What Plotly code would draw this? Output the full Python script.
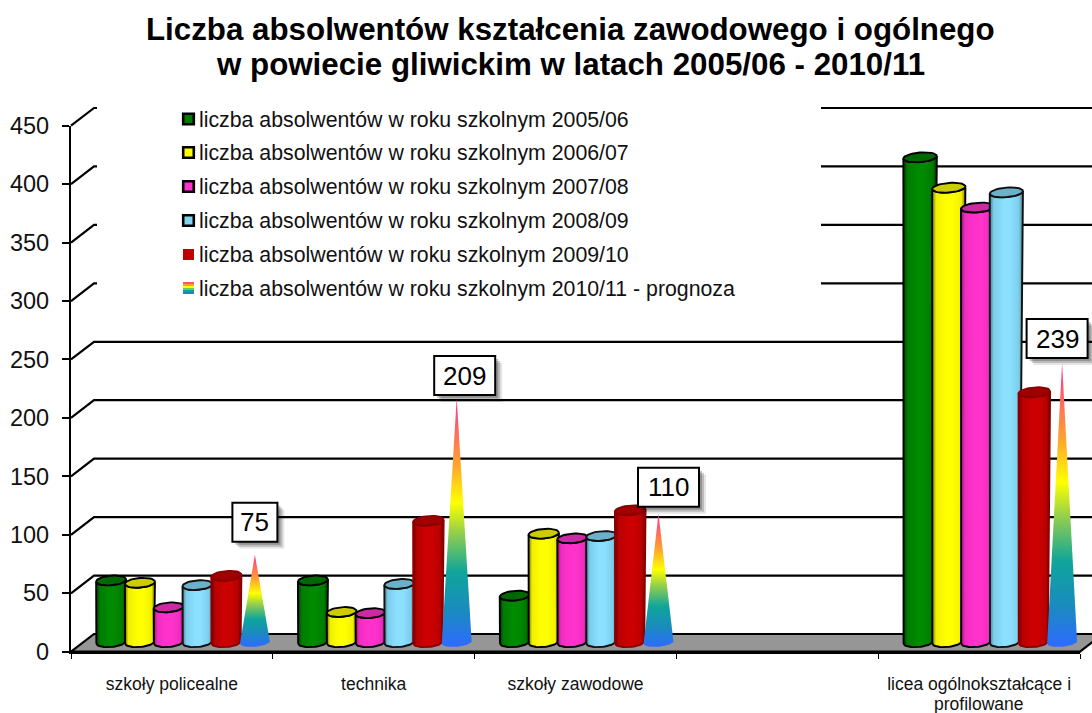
import math
import plotly.graph_objects as go

categories = ["szkoły policealne", "technika", "szkoły zawodowe", "", "licea ogólnokształcące i"]
category_second_line = "profilowane"
y_ticks = [0, 50, 100, 150, 200, 250, 300, 350, 400, 450]
title_lines = ["Liczba absolwentów kształcenia zawodowego i ogólnego",
               "w powiecie gliwickim w latach 2005/06 - 2010/11"]
series_names = [
    "liczba absolwentów w roku szkolnym 2005/06",
    "liczba absolwentów w roku szkolnym 2006/07",
    "liczba absolwentów w roku szkolnym 2007/08",
    "liczba absolwentów w roku szkolnym 2008/09",
    "liczba absolwentów w roku szkolnym 2009/10",
    "liczba absolwentów w roku szkolnym 2010/11 - prognoza",
]
v2005 = [53, 53, 40, None, 415]
v2006 = [51, 26, 93, None, 389]
v2007 = [30, 25, 89, None, 372]
v2008 = [49, 50, 91, None, 385]
v2009 = [57, 104, 113, None, 214]
v2010 = [75, 209, 110, None, 239]
cylinder_series = [v2005, v2006, v2007, v2008, v2009]

W, H = 1092, 713
L, R, T, B = 71, 1080, 125.7, 651.7
PX_CAT = (R - L) / 5
PX_UNIT = (B - T) / 450
px_x = lambda px: px / PX_CAT            # horizontal pixels -> x units
px_y = lambda px: px / PX_UNIT           # vertical pixels -> y units
pap_x = lambda px: px / W
pap_y = lambda px: 1 - px / H

DEPTH_X, DEPTH_Y = px_x(23), px_y(17.7)
X0, X1 = -0.5, 4.5
GROUP_SHIFT = px_x(11)
STEP = px_x(28.8)
BASE = px_y(9.3)
LEGEND_EDGE = X0 + px_x(821 - L)
FONT = "Liberation Sans"

def shade(dark, mid, light):
    return [[0, dark], [0.12, mid], [0.42, light], [0.62, light], [0.88, mid], [1, dark]]

styles = [
    dict(body=shade("#003a00", "#007a00", "#008a00"), top="#006800", line="#000000"),
    dict(body=shade("#7a7a00", "#f0f000", "#ffff00"), top="#cccc00", line="#000000"),
    dict(body=shade("#8a1670", "#f02cc0", "#ff33cc"), top="#cc2aa4", line="#000000"),
    dict(body=shade("#4a7d92", "#7ccdea", "#8be0ff"), top="#6cb0ca", line="#111111"),
    dict(body=shade("#6a0000", "#b80000", "#cc0000"), top="#a00000", line="#8a0000"),
]
cone_scale = [[0, "#2f6bff"], [0.14, "#1a8ac0"], [0.3, "#0fa59a"], [0.45, "#8ccc50"],
              [0.58, "#ffff00"], [0.74, "#ffa030"], [1, "#ff3090"]]

fig = go.Figure()

def ell_pts(cx, cy, a_px, b_px, t0, t1, n=24, tilt=-0.085):
    xs, ys = [], []
    for i in range(n + 1):
        t = t0 + (t1 - t0) * i / n
        ex, ey = a_px * math.cos(t), b_px * math.sin(t)
        rx = ex * math.cos(tilt) - ey * math.sin(tilt)
        ry = ex * math.sin(tilt) + ey * math.cos(tilt)
        xs.append(cx + px_x(rx))
        ys.append(cy - px_y(ry))
    return xs, ys

def add_line(xs, ys):
    fig.add_trace(go.Scatter(x=xs, y=ys, mode="lines", line=dict(color="#000000", width=2.2),
                             hoverinfo="skip", showlegend=False))

# floor
fig.add_trace(go.Scatter(
    x=[X0, X0 + DEPTH_X, X1 + DEPTH_X, X1, X0], y=[0, DEPTH_Y, DEPTH_Y, 0, 0],
    mode="lines", fill="toself", fillcolor="#969696", line=dict(color="#000000", width=2.2),
    hoverinfo="skip", showlegend=False))

# back-wall grid lines
for v in y_ticks[1:]:
    if v >= 300:
        add_line([X0, X0 + DEPTH_X, X0 + DEPTH_X + px_x(3), None, LEGEND_EDGE, X1 + DEPTH_X],
                 [v, v + DEPTH_Y, v + DEPTH_Y, None, v + DEPTH_Y, v + DEPTH_Y])
    else:
        add_line([X0, X0 + DEPTH_X, X1 + DEPTH_X], [v, v + DEPTH_Y, v + DEPTH_Y])

# cylinders
GROW = 2.0 / 415
for s, vals in enumerate(cylinder_series):
    st = styles[s]
    for c, v in enumerate(vals):
        if v is None:
            continue
        bx = c + GROUP_SHIFT + STEP * (s - 2.5)
        grow = GROW * v
        a0, a1 = 14.6, 14.8 + grow
        tx, ty = bx + px_x(grow), BASE + v
        xs, ys = ell_pts(bx, BASE, a0, 4.6, math.pi, 0)
        xs2, ys2 = ell_pts(tx, ty, a1, 4.8, 0, math.pi)
        fig.add_trace(go.Scatter(
            x=xs + xs2 + [xs[0]], y=ys + ys2 + [ys[0]], mode="lines", fill="toself",
            fillgradient=dict(type="horizontal", colorscale=st["body"]),
            line=dict(color=st["line"], width=1.9),
            name=series_names[s], hoverinfo="skip", showlegend=False))
        exs, eys = ell_pts(tx, ty, a1, 4.8, 0, 2 * math.pi, n=40)
        fig.add_trace(go.Scatter(
            x=exs, y=eys, mode="lines", fill="toself", fillcolor=st["top"],
            line=dict(color=st["line"], width=1.9),
            hoverinfo="skip", showlegend=False))

# cones
for c, v in enumerate(v2010):
    if v is None:
        continue
    bx = c + GROUP_SHIFT + STEP * 2.5
    xs, ys = ell_pts(bx, BASE, 15, 4.4, math.pi, 0)
    fig.add_trace(go.Scatter(
        x=xs + [bx, xs[0]], y=ys + [BASE + v, ys[0]], mode="lines", fill="toself",
        fillgradient=dict(type="vertical", colorscale=cone_scale, start=BASE - px_y(4), stop=BASE + v),
        line=dict(width=0), name=series_names[5],
        hoverinfo="skip", showlegend=False))

shapes, annotations = [], []

# value labels
label_dx = [0, 8, 10, None, -5]
label_gap = [13, 3, 7, None, 5]
for c, v in enumerate(v2010):
    if v is None:
        continue
    bx = c + GROUP_SHIFT + STEP * 2.5
    w = 22.5 if v < 100 else 30.5
    tip = BASE + v
    cx, gap = label_dx[c], label_gap[c]
    for sh, col in ((7, "rgba(0,0,0,0.10)"), (5, "rgba(0,0,0,0.18)"), (3, "rgba(0,0,0,0.22)")):
        shapes.append(dict(type="rect", xref="x", yref="y", xsizemode="pixel", ysizemode="pixel",
                           xanchor=bx, yanchor=tip, x0=cx - w + sh, x1=cx + w + sh,
                           y0=gap - sh, y1=gap + 39 - sh,
                           line=dict(width=0), fillcolor=col, layer="above"))
    shapes.append(dict(type="rect", xref="x", yref="y", xsizemode="pixel", ysizemode="pixel",
                       xanchor=bx, yanchor=tip, x0=cx - w, x1=cx + w, y0=gap, y1=gap + 39,
                       line=dict(width=2, color="#000000"), fillcolor="#ffffff", layer="above"))
    annotations.append(dict(x=bx, y=tip, xref="x", yref="y", text=str(v), showarrow=False,
                            xshift=cx, yshift=gap + 19.5, xanchor="center", yanchor="middle",
                            font=dict(family=FONT, size=26, color="#000000")))

# legend (keys + text)
legend_y = [119, 152.5, 186.5, 220.5, 254.5, 288]
key_colors = ["#007a00", "#ffff00", "#ff33cc", "#80d4f0", "#c00000"]
for i, name in enumerate(series_names):
    y = legend_y[i]
    annotations.append(dict(x=pap_x(199), y=pap_y(y + 0.7), xref="paper", yref="paper", text=name,
                            showarrow=False, xanchor="left", yanchor="middle", xshift=-2,
                            font=dict(family=FONT, size=21.3, color="#111111")))
    if i < 4:
        shapes.append(dict(type="rect", xref="paper", yref="paper", x0=pap_x(183.2), x1=pap_x(193.8),
                           y0=pap_y(y - 5.3), y1=pap_y(y + 5.3), fillcolor=key_colors[i],
                           line=dict(color="#000000", width=2.6), layer="above"))
    elif i == 4:
        shapes.append(dict(type="rect", xref="paper", yref="paper", x0=pap_x(183), x1=pap_x(194),
                           y0=pap_y(y - 5.5), y1=pap_y(y + 5.5), fillcolor=key_colors[i],
                           line=dict(width=0), layer="above"))
    else:
        bands = ["#ff5080", "#ffa030", "#ffff00", "#70c850", "#10a0a0", "#2080d0"]
        for b, col in enumerate(bands):
            shapes.append(dict(type="rect", xref="paper", yref="paper", x0=pap_x(183), x1=pap_x(194),
                               y0=pap_y(y - 6 + 2 * b), y1=pap_y(y - 6 + 2 * b + 2), fillcolor=col,
                               line=dict(width=0), layer="above"))

# title and the wrapped second line of the last category
for text, y in zip(title_lines, (29, 64)):
    annotations.append(dict(x=pap_x(570), y=pap_y(y), xref="paper", yref="paper", text=text,
                            showarrow=False, xanchor="center", yanchor="middle",
                            font=dict(family=FONT, size=31.3, color="#000000", weight="bold")))
annotations.append(dict(x=4, y=pap_y(703.5), xref="x2", yref="paper", text=category_second_line,
                        showarrow=False, xanchor="center", yanchor="middle",
                        font=dict(family=FONT, size=17.5, color="#111111")))

# visible axes sit on x2/y2; x/y fill the canvas with the same scale so nothing is clipped
fig.add_trace(go.Scatter(x=[0], y=[0], xaxis="x2", yaxis="y2", mode="markers",
                         marker=dict(opacity=0), hoverinfo="skip", showlegend=False))

fig.update_layout(
    width=W, height=H, autosize=False, showlegend=False,
    margin=dict(l=0, r=0, t=0, b=0, pad=0, autoexpand=False),
    paper_bgcolor="#ffffff", plot_bgcolor="rgba(0,0,0,0)",
    font=dict(family=FONT, color="#000000"),
    xaxis=dict(domain=[0, 1], range=[X0 - px_x(L), X0 + px_x(W - L)], visible=False, fixedrange=True),
    yaxis=dict(domain=[0, 1], range=[-px_y(H - B), px_y(B)], visible=False, fixedrange=True),
    xaxis2=dict(domain=[L / W, R / W], anchor="y2", range=[X0, X1], tickvals=list(range(5)), ticktext=categories,
                ticks="", showgrid=False, zeroline=False, showline=True, linecolor="#000000", linewidth=2.2,
                ticklabelstandoff=15, tickangle=0, tickfont=dict(size=17.5, family=FONT, color="#111111"),
                minor=dict(tickmode="array", tickvals=[-0.5, 0.5, 1.5, 2.5, 3.5, 4.5], ticks="outside",
                           ticklen=5, tickwidth=1.2, tickcolor="#000000", showgrid=False)),
    yaxis2=dict(domain=[1 - B / H, 1 - T / H], anchor="x2", range=[0, 450], tickvals=y_ticks, ticks="outside",
                ticklen=7, tickwidth=1.5, tickcolor="#000000", showgrid=False, zeroline=False, showline=True,
                linecolor="#000000", linewidth=2.2, ticklabelstandoff=8,
                tickfont=dict(size=23.5, family=FONT, color="#111111")),
    shapes=shapes, annotations=annotations,
)

fig.write_html("out.html", config=dict(displayModeBar=False),
               post_script="document.body.style.margin='0';document.body.style.overflow='hidden';")
